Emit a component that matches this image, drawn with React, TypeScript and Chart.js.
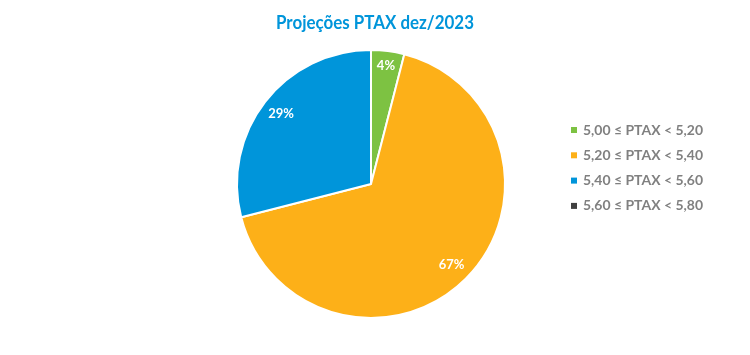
import React, { useEffect, useRef } from "react";
import { Chart, registerables } from "chart.js";

Chart.register(...registerables);

const titleText = "Projeções PTAX dez/2023";
const categories = ["5,00 ≤ PTAX < 5,20", "5,20 ≤ PTAX < 5,40", "5,40 ≤ PTAX < 5,60", "5,60 ≤ PTAX < 5,80"];
const shares = [4, 67, 29, 0];
const colors = ["#7DC242", "#FDB018", "#0095DA", "#404040"];

const FONT = "Lato, 'Open Sans', sans-serif";

const titlePlugin = {
  id: "customTitle",
  afterDraw(chart: any) {
    const ctx = chart.ctx;
    ctx.save();
    ctx.font = `bold 19px ${FONT}`;
    ctx.fillStyle = "#0095DA";
    ctx.textAlign = "center";
    ctx.textBaseline = "alphabetic";
    ctx.fillText(titleText, 375, 29, 198);
    ctx.restore();
  },
};

const labelPlugin = {
  id: "sliceLabels",
  afterDatasetsDraw(chart: any) {
    const ctx = chart.ctx;
    const meta = chart.getDatasetMeta(0);
    ctx.save();
    ctx.font = `bold 13px ${FONT}`;
    ctx.fillStyle = "#ffffff";
    ctx.textAlign = "center";
    ctx.textBaseline = "middle";
    meta.data.forEach((arc: any, i: number) => {
      const v = shares[i];
      if (!v) return;
      const { x, y, startAngle, endAngle, outerRadius } = arc.getProps(["x", "y", "startAngle", "endAngle", "outerRadius"], true);
      const mid = (startAngle + endAngle) / 2;
      const r = outerRadius * (v < 10 ? 0.89 : 0.85);
      ctx.fillText(`${v}%`, x + Math.cos(mid) * r, y + Math.sin(mid) * r);
    });
    ctx.restore();
  },
};

const legendPlugin = {
  id: "customLegend",
  afterDraw(chart: any) {
    const ctx = chart.ctx;
    ctx.save();
    ctx.font = `bold 14px ${FONT}`;
    ctx.textBaseline = "middle";
    ctx.textAlign = "left";
    categories.forEach((c, i) => {
      const y = 130 + i * 25.3;
      ctx.fillStyle = colors[i];
      ctx.fillRect(571, y - 3, 6, 6);
      ctx.fillStyle = "#808080";
      ctx.fillText(c, 583, y, 120);
    });
    ctx.restore();
  },
};

export default function App() {
  const ref = useRef<HTMLCanvasElement>(null);
  useEffect(() => {
    if (!ref.current) return;
    const chart = new Chart(ref.current, {
      type: "pie",
      data: {
        labels: categories,
        datasets: [
          {
            data: shares,
            backgroundColor: colors,
            borderColor: "#ffffff",
            borderWidth: 2,
          },
        ],
      },
      options: {
        responsive: true,
        maintainAspectRatio: false,
        animation: false,
        layout: { padding: { left: 236, right: 244, top: 49, bottom: 36 } },
        plugins: {
          legend: { display: false },
          title: { display: false },
          tooltip: { enabled: false },
        },
      },
      plugins: [titlePlugin, labelPlugin, legendPlugin],
    });
    return () => chart.destroy();
  }, []);
  return (
    <div style={{ position: "fixed", left: 0, top: 0, width: 750, height: 355, background: "#fff" }}>
      <canvas ref={ref} />
    </div>
  );
}
